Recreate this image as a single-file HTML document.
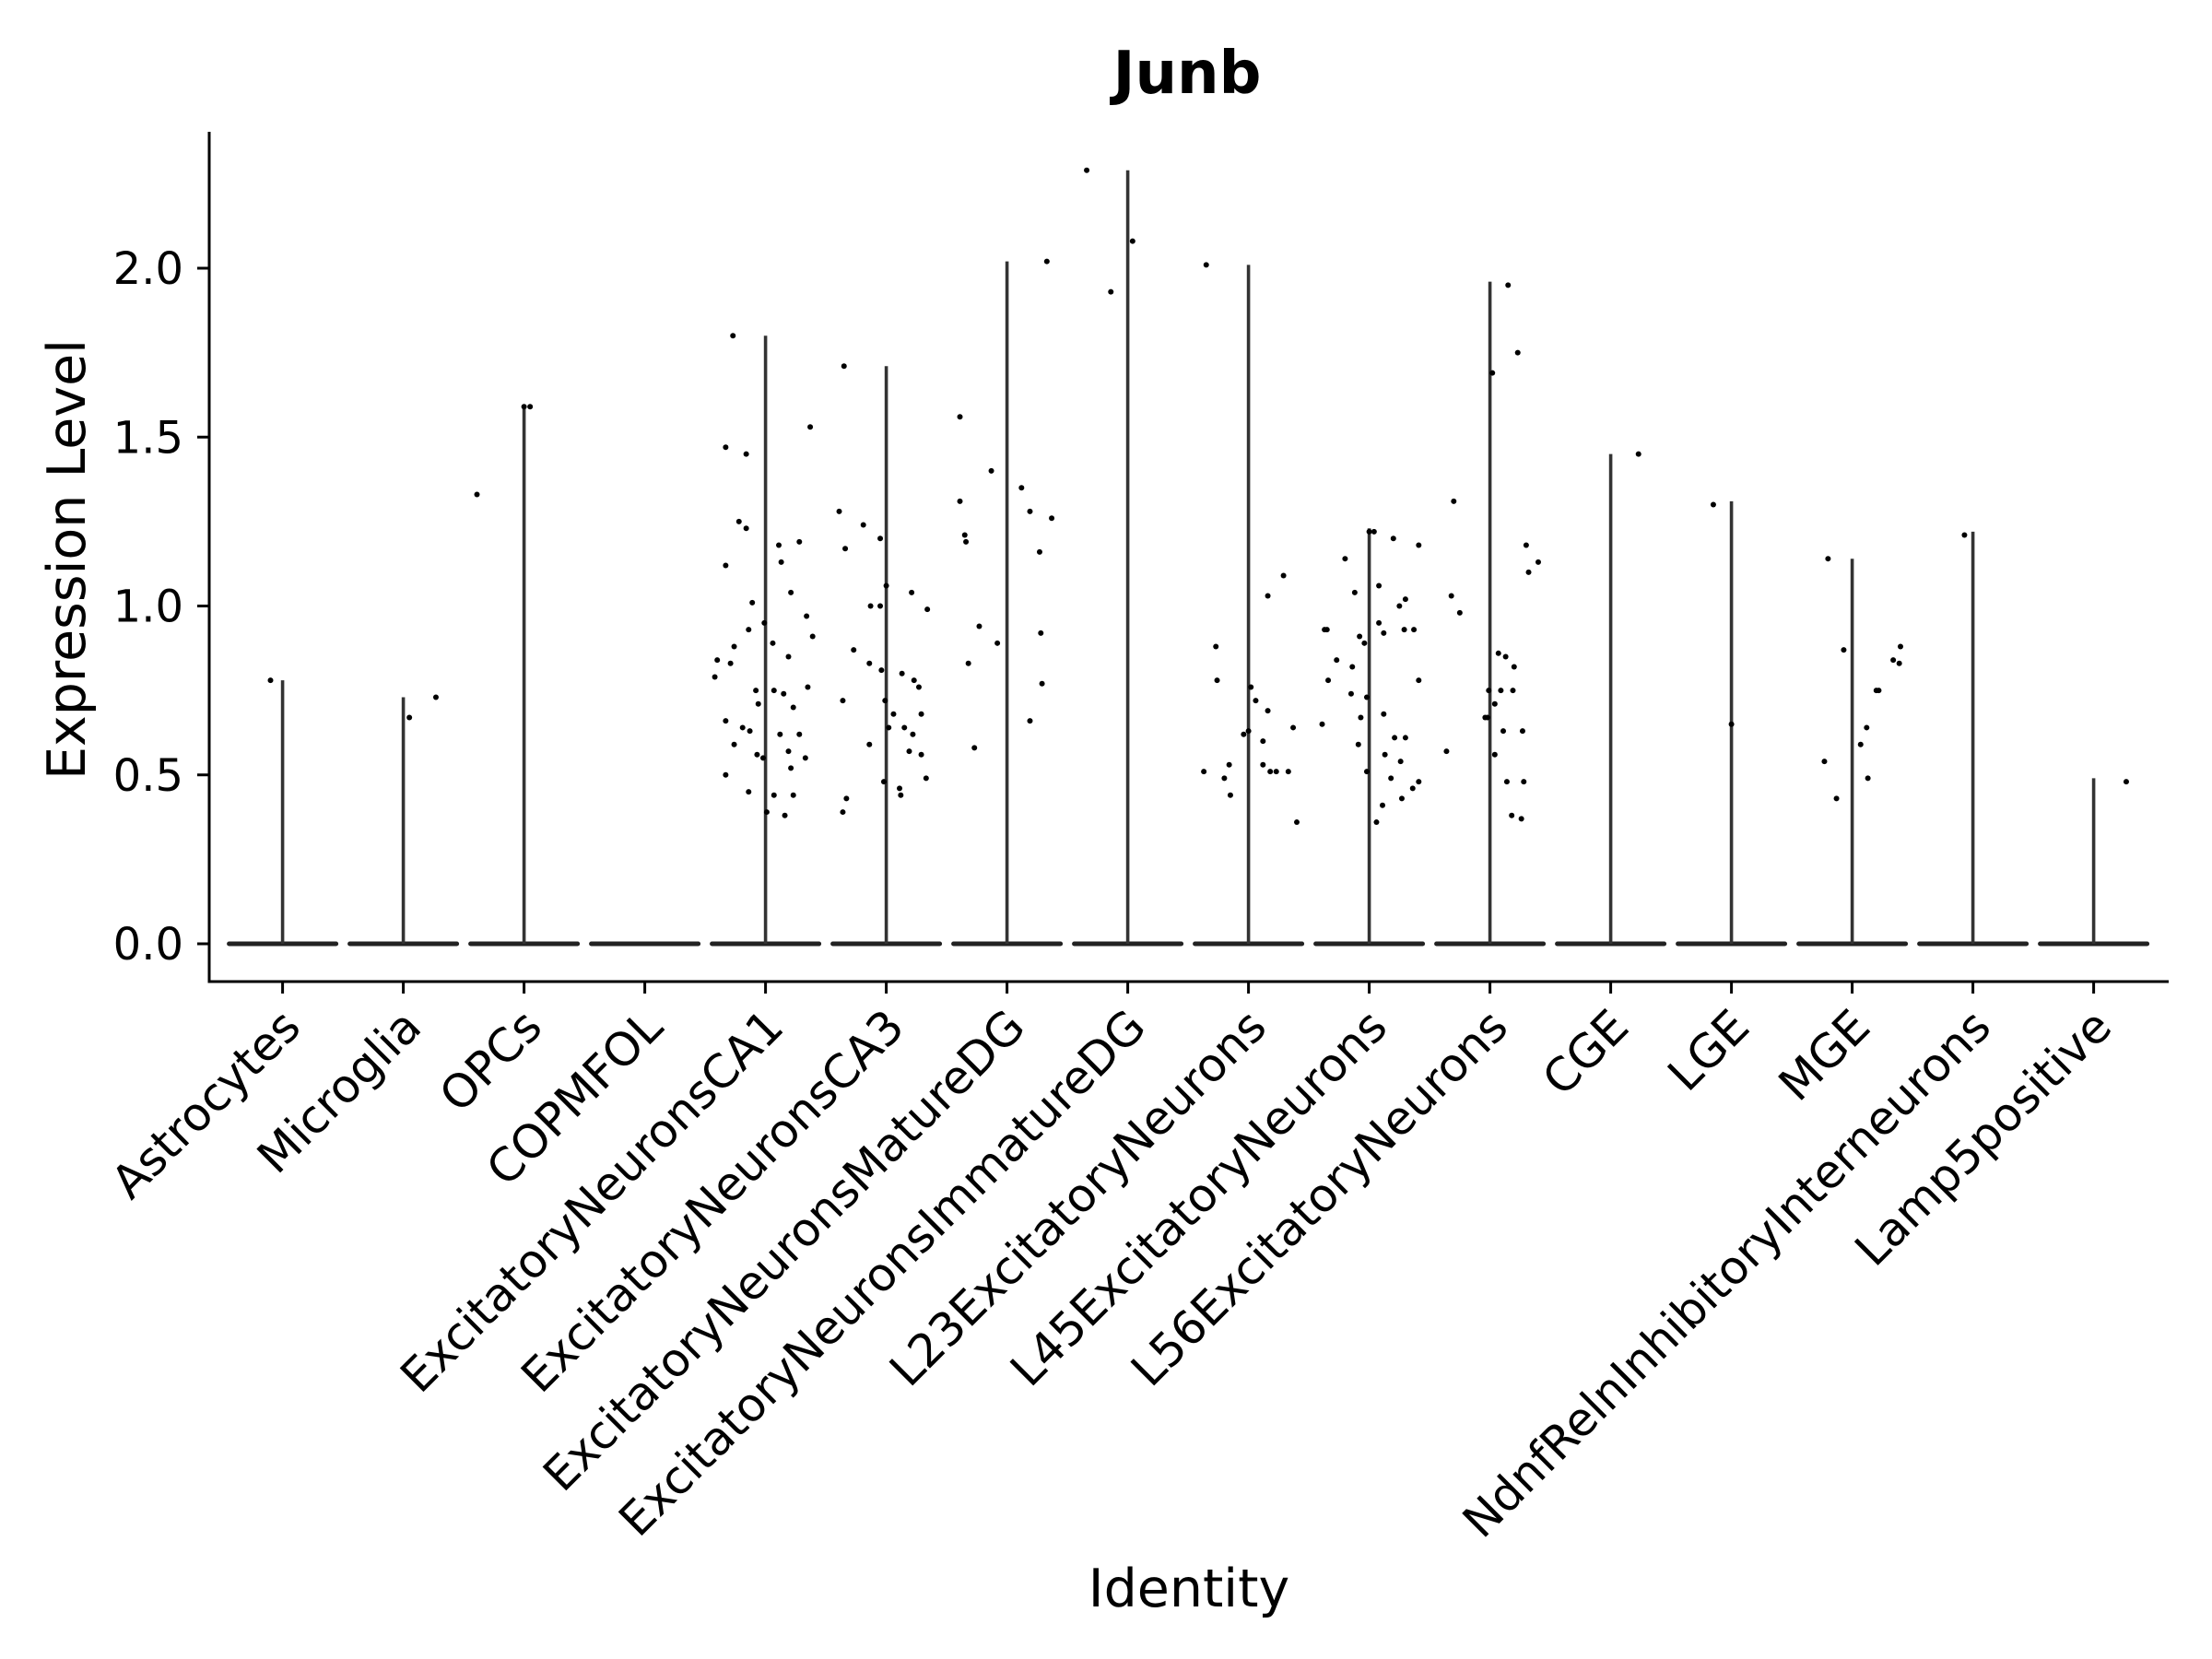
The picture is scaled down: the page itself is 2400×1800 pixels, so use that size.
<!DOCTYPE html>
<html><head><meta charset="utf-8"><style>
html,body{margin:0;padding:0;background:#fff;}
svg{display:block;font-family:"DejaVu Sans","Liberation Sans",sans-serif;}
</style></head><body>
<svg id="chart" width="2400" height="1800" viewBox="0 0 2400 1800" xmlns="http://www.w3.org/2000/svg">
<rect width="2400" height="1800" fill="#fff"/>
<text x="1288" y="101" text-anchor="middle" font-size="64" font-weight="bold">Junb</text>
<text transform="translate(92,607) rotate(-90)" text-anchor="middle" font-size="57">Expression Level</text>
<text x="1290" y="1743" text-anchor="middle" font-size="57">Identity</text>
<g id="marks"></g>
<g id="axes"></g>
</svg>
<script>
const categories = ["Astrocytes","Microglia","OPCs","COPMFOL","ExcitatoryNeuronsCA1","ExcitatoryNeuronsCA3","ExcitatoryNeuronsMatureDG","ExcitatoryNeuronsImmatureDG","L23ExcitatoryNeurons","L45ExcitatoryNeurons","L56ExcitatoryNeurons","CGE","LGE","MGE","NdnfRelnInhibitoryInterneurons","Lamp5positive"];
const maxValues = [0.78,0.73,1.59,0,1.80,1.71,2.02,2.29,2.01,1.23,1.96,1.45,1.31,1.14,1.22,0.49];
const yTicks = [0.0,0.5,1.0,1.5,2.0];
const yTickLabels = ["0.0","0.5","1.0","1.5","2.0"];
const pointValues = [
 [0.78],
 [0.67,0.73],
 [1.33,1.59,1.59],
 [],
 [1.80,1.47,1.45,1.53,1.25,1.23,1.12,1.18,1.19,1.13,1.01,0.84,0.83,1.04,0.97,0.91,0.93,0.95,0.88,0.89,0.85,0.79,0.75,0.75,0.76,0.66,0.71,0.70,0.59,0.63,0.62,0.62,0.55,0.57,0.55,0.50,0.45,0.44,0.52,0.39,0.38,0.44,0.56,0.64,0.74],
 [1.71,1.28,1.24,1.17,1.20,1.06,1.00,1.00,1.04,0.99,0.87,0.83,0.81,0.80,0.78,0.76,0.72,0.72,0.68,0.68,0.59,0.64,0.64,0.62,0.57,0.56,0.49,0.48,0.46,0.43,0.39,0.44],
 [1.56,1.31,1.21,1.19,1.40,1.35,1.28,1.26,1.16,0.94,0.89,0.92,0.83,0.77,0.66,0.58,2.02],
 [2.29,1.93,2.08],
 [2.01,1.09,1.03,0.88,0.78,0.76,0.72,0.69,0.63,0.60,0.64,0.53,0.51,0.49,0.53,0.51,0.51,0.51,0.44,0.36,0.62],
 [1.22,1.22,1.20,1.18,1.14,1.04,1.06,1.00,1.02,0.93,0.93,0.93,0.91,0.95,0.92,0.89,0.84,0.82,0.93,0.78,0.78,0.74,0.73,0.68,0.67,0.65,0.61,0.61,0.59,0.56,0.54,0.51,0.46,0.48,0.49,0.43,0.41,0.36],
 [1.95,1.69,1.75,1.31,1.03,0.98,1.18,1.13,1.10,0.86,0.85,0.82,0.75,0.75,0.75,0.71,0.67,0.63,0.63,0.67,0.56,0.57,0.48,0.48,0.38,0.37],
 [1.45],
 [1.30,0.65],
 [1.14,0.87,0.84,0.88,0.83,0.75,0.75,0.64,0.59,0.49,0.54,0.43],
 [1.21],
 [0.48]
];
const pointJitter = [
 [-0.10],
 [0.05,0.27],
 [-0.39,0.00,0.05],
 [],
 [-0.27,-0.33,-0.16,0.37,-0.22,-0.16,-0.33,0.11,0.28,0.13,-0.11,-0.40,-0.29,0.21,0.34,0.39,-0.14,-0.01,-0.26,0.06,0.19,-0.42,-0.08,0.07,0.35,-0.33,-0.06,0.23,-0.26,-0.13,0.12,0.28,-0.02,0.19,0.33,-0.33,-0.14,0.07,0.21,0.01,0.16,0.23,-0.07,-0.19,0.15],
 [-0.35,-0.39,-0.19,-0.34,-0.05,0.00,-0.13,-0.05,0.21,0.34,-0.27,-0.14,-0.04,0.13,0.23,0.27,-0.36,-0.01,0.06,0.29,-0.14,0.02,0.15,0.22,0.19,0.29,0.33,-0.02,0.11,-0.33,-0.36,0.12],
 [-0.39,-0.39,-0.35,-0.34,-0.13,0.12,0.19,0.37,0.27,-0.23,-0.08,0.28,-0.32,0.29,0.19,-0.27,0.33],
 [-0.34,-0.14,0.04],
 [-0.35,0.29,0.16,-0.27,-0.26,0.02,0.06,0.16,0.00,0.12,0.37,-0.16,-0.37,-0.20,0.12,0.18,0.23,0.33,-0.15,0.40,-0.04],
 [0.00,0.04,0.20,0.41,-0.20,-0.12,0.08,0.25,0.30,0.37,-0.35,-0.37,-0.08,0.08,0.12,-0.04,-0.27,-0.14,0.29,-0.34,0.41,-0.15,-0.02,0.12,-0.07,-0.39,0.21,0.30,-0.09,0.13,0.26,-0.02,0.36,0.41,0.18,0.27,0.11,0.06],
 [0.15,0.02,0.23,-0.30,-0.32,-0.25,0.30,0.40,0.32,0.07,0.13,0.20,-0.01,0.09,0.19,0.04,-0.02,0.11,0.27,-0.04,0.04,-0.36,0.28,0.14,0.18,0.26],
 [0.23],
 [-0.15,0.00],
 [-0.20,-0.07,0.34,0.40,0.39,0.20,0.22,0.12,0.07,0.13,-0.23,-0.13],
 [-0.07],
 [0.27]
];

const NS = "http://www.w3.org/2000/svg";
const X0 = 306.6, STEP = 131.0, Y0 = 1024, YU = 366.5;
const AX_L = 227, AX_R = 2353, AX_T = 143, AX_B = 1065;
function xScale(i){ return X0 + i*STEP; }
function yScale(v){ return Y0 - v*YU; }
function mk(tag, attrs, parent){
  const e = document.createElementNS(NS, tag);
  for (const k in attrs) e.setAttribute(k, attrs[k]);
  parent.appendChild(e);
  return e;
}
const marks = document.getElementById('marks');
const axes = document.getElementById('axes');

categories.forEach((c, i) => {
  const cx = xScale(i);
  const g = mk('g', {}, marks);
  
  
  const band = mk('line', {x1: cx-58, x2: cx+58, y1: yScale(0), y2: yScale(0), stroke: '#222', 'stroke-width': 5, 'stroke-linecap': 'round'}, g);
  
  
  if (maxValues[i] > 0) {
    const vl = mk('line', {x1: cx, x2: cx, y1: yScale(0), y2: yScale(maxValues[i]), stroke: '#333', 'stroke-width': 3.6}, g);
    
    
  }
  pointValues[i].forEach((v, k) => {
    const p = mk('circle', {cx: cx + pointJitter[i][k]*STEP, cy: yScale(v), r: 3, fill: '#000'}, g);
    
    
  });
});

const yl = mk('line', {x1: AX_L, x2: AX_L, y1: AX_T, y2: AX_B + 1.5, stroke: '#000', 'stroke-width': 3}, axes);


const xl = mk('line', {x1: AX_L - 1.5, x2: AX_R, y1: AX_B, y2: AX_B, stroke: '#000', 'stroke-width': 3}, axes);



yTicks.forEach((t, k) => {
  const y = yScale(t);
  const tk = mk('line', {x1: AX_L - 13, x2: AX_L, y1: y, y2: y, stroke: '#000', 'stroke-width': 3}, axes);
  
  
  const tx = mk('text', {x: AX_L - 28, y: y + 17, 'text-anchor': 'end', 'font-size': 48}, axes);
  tx.textContent = yTickLabels[k];
  
  
});

categories.forEach((c, i) => {
  const x = xScale(i);
  const tk = mk('line', {x1: x, x2: x, y1: AX_B, y2: AX_B + 13, stroke: '#000', 'stroke-width': 3}, axes);
  
  
  const ax = x + 22, ay = AX_B + 52;
  const tx = mk('text', {x: ax, y: ay, 'text-anchor': 'end', 'font-size': 50, transform: 'rotate(-45 ' + ax + ' ' + ay + ')'}, axes);
  tx.textContent = c;
  
  
});
</script>
</body></html>
